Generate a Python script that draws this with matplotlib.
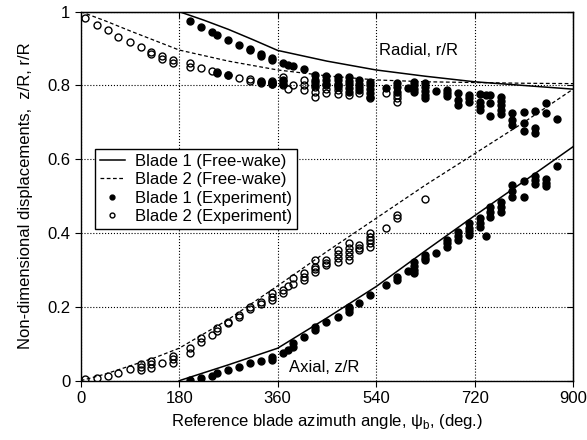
import matplotlib
matplotlib.use("Agg")
import matplotlib.pyplot as plt

plt.rcParams['font.family'] = ['Liberation Sans', 'DejaVu Sans']
plt.rcParams['mathtext.fontset'] = 'custom'
plt.rcParams['mathtext.rm'] = 'Liberation Sans'

# free-wake predictions
fw1_psi = [180, 225, 270, 315, 360, 450, 540, 630, 720, 810, 900]
fw1_rad = [1.0, 0.977, 0.952, 0.924, 0.895, 0.866, 0.842, 0.825, 0.81, 0.80, 0.79]
fw1_ax_psi = [180, 270, 360, 450, 540, 630, 720, 810, 900]
fw1_ax = [0.0, 0.043, 0.088, 0.17, 0.255, 0.352, 0.447, 0.54, 0.634]

fw2_psi = [0, 45, 90, 135, 180, 270, 360, 450, 540, 630, 720, 810, 900]
fw2_rad = [1.0, 0.975, 0.948, 0.922, 0.896, 0.866, 0.842, 0.826, 0.815, 0.81, 0.808, 0.806, 0.805]
fw2_ax = [0.0, 0.018, 0.04, 0.062, 0.088, 0.166, 0.257, 0.35, 0.44, 0.53, 0.615, 0.70, 0.79]

# experiment, blade 1 (radial)
b1_rad_psi = [200, 220, 240, 249, 270, 290, 310, 310, 330, 330, 350, 350,
              370, 379, 388, 409, 429, 449,
              249, 270, 330, 350, 350, 370, 370, 429, 429, 449, 449,
              470, 470, 470, 470, 490, 490, 490, 490, 490,
              509, 509, 509, 509, 529, 529, 529, 529, 529, 559,
              579, 579, 579, 599, 610, 610, 610, 610,
              629, 629, 629, 629, 629, 649, 670, 670, 670,
              690, 690, 690, 710, 710, 710, 730, 730, 730, 730, 740,
              749, 749, 749, 769, 769, 769, 769, 769,
              789, 789, 789, 810, 810, 810, 830, 830, 830, 850, 850, 870]
b1_rad_val = [0.974, 0.958, 0.944, 0.936, 0.922, 0.91, 0.90, 0.895, 0.884, 0.879, 0.875, 0.870,
              0.86, 0.856, 0.853, 0.844, 0.828, 0.826,
              0.834, 0.828, 0.81, 0.81, 0.805, 0.815, 0.805, 0.815, 0.80, 0.815, 0.805,
              0.824, 0.815, 0.805, 0.795, 0.824, 0.813, 0.803, 0.793, 0.783,
              0.815, 0.805, 0.795, 0.788, 0.81, 0.80, 0.79, 0.78, 0.77, 0.792,
              0.806, 0.795, 0.783, 0.792, 0.81, 0.80, 0.79, 0.783,
              0.806, 0.795, 0.785, 0.775, 0.765, 0.786, 0.788, 0.78, 0.771,
              0.78, 0.76, 0.747, 0.774, 0.765, 0.756, 0.776, 0.756, 0.745, 0.734, 0.774,
              0.774, 0.752, 0.717, 0.768, 0.757, 0.746, 0.734, 0.723,
              0.726, 0.706, 0.693, 0.729, 0.699, 0.677, 0.732, 0.684, 0.672, 0.752, 0.725, 0.708]

# experiment, blade 2 (radial)
b2_rad_psi = [8, 30, 50, 69, 90, 110, 129, 129, 149, 149, 169, 169,
              200, 200, 220, 240, 249, 270, 290, 310, 310, 330, 330, 350, 350, 350,
              370, 370, 370, 379, 388, 409, 409, 409, 429, 429, 429, 429,
              449, 449, 449, 470, 470, 470, 490, 509, 529, 559, 579, 579, 579]
b2_rad_val = [0.983, 0.965, 0.949, 0.931, 0.917, 0.905, 0.89, 0.885, 0.879, 0.873, 0.868, 0.862,
              0.86, 0.85, 0.846, 0.84, 0.836, 0.829, 0.82, 0.817, 0.812, 0.811, 0.806, 0.813, 0.808, 0.803,
              0.824, 0.812, 0.80, 0.79, 0.801, 0.815, 0.80, 0.788, 0.81, 0.795, 0.783, 0.769,
              0.80, 0.79, 0.78, 0.80, 0.788, 0.777, 0.774, 0.78, 0.765, 0.78, 0.774, 0.765, 0.756]

# experiment, blade 1 (axial)
b1_ax_psi = [200, 220, 240, 249, 270, 290, 310, 330, 350, 350,
             370, 379, 388, 388, 409, 429, 429, 449, 470, 490, 490, 490, 509, 529, 559,
             579, 579, 599, 610, 610, 610, 610, 629, 629, 629, 649, 670, 670, 670,
             690, 690, 690, 710, 710, 710, 710, 730, 730, 730, 740,
             749, 749, 749, 769, 769, 769, 789, 789, 789, 810, 810,
             830, 830, 830, 850, 850, 850, 870]
b1_ax_val = [0.002, 0.006, 0.013, 0.02, 0.029, 0.036, 0.049, 0.053, 0.065, 0.056,
             0.074, 0.083, 0.101, 0.092, 0.119, 0.146, 0.138, 0.16, 0.173, 0.2, 0.193, 0.187, 0.211, 0.232, 0.259,
             0.282, 0.273, 0.298, 0.322, 0.312, 0.30, 0.291, 0.341, 0.333, 0.327, 0.347, 0.381, 0.372, 0.363,
             0.404, 0.392, 0.381, 0.426, 0.415, 0.405, 0.395, 0.44, 0.428, 0.417, 0.392,
             0.472, 0.458, 0.444, 0.485, 0.472, 0.458, 0.53, 0.515, 0.499, 0.542, 0.497,
             0.555, 0.544, 0.533, 0.546, 0.537, 0.528, 0.582]

# experiment, blade 2 (axial)
b2_ax_psi = [8, 30, 50, 69, 90, 110, 110, 110, 129, 129, 129, 149, 169, 169, 169,
             200, 200, 220, 220, 240, 249, 249, 270, 270, 290, 290, 310, 310, 330, 330,
             350, 350, 350, 370, 370, 379, 388, 388, 409, 409, 409,
             429, 429, 429, 429, 449, 449, 449, 470, 470, 470, 470,
             490, 490, 490, 490, 490, 509, 509, 509, 529, 529, 529, 529, 529,
             559, 579, 579, 629]
b2_ax_val = [0.004, 0.006, 0.013, 0.022, 0.031, 0.03, 0.038, 0.045, 0.035, 0.044, 0.052, 0.049, 0.048, 0.058, 0.066,
             0.088, 0.074, 0.115, 0.106, 0.124, 0.143, 0.136, 0.16, 0.155, 0.178, 0.172, 0.2, 0.195, 0.214, 0.208,
             0.237, 0.228, 0.219, 0.246, 0.237, 0.257, 0.277, 0.262, 0.291, 0.282, 0.273,
             0.327, 0.309, 0.302, 0.295, 0.327, 0.32, 0.313, 0.354, 0.343, 0.333, 0.322,
             0.372, 0.36, 0.348, 0.337, 0.327, 0.368, 0.36, 0.354, 0.40, 0.39, 0.38, 0.372, 0.363,
             0.413, 0.449, 0.44, 0.492]

fig = plt.figure(figsize=(5.87, 4.40), dpi=100)
ax = fig.add_axes([0.1375, 0.1348, 0.8387, 0.8387])

ax.plot(fw1_psi, fw1_rad, '-', color='black', lw=1.1, label='Blade 1 (Free-wake)')
ax.plot(fw1_ax_psi, fw1_ax, '-', color='black', lw=1.1)
ax.plot(fw2_psi, fw2_rad, '--', color='black', lw=0.9, dashes=(3, 2), label='Blade 2 (Free-wake)')
ax.plot(fw2_psi, fw2_ax, '--', color='black', lw=0.9, dashes=(3, 2))

ax.plot(b1_rad_psi, b1_rad_val, 'o', color='black', ms=5, mec='black', ls='none',
        label='Blade 1 (Experiment)')
ax.plot(b1_ax_psi, b1_ax_val, 'o', color='black', ms=5, mec='black', ls='none')
ax.plot(b2_rad_psi, b2_rad_val, 'o', mfc='none', mec='black', mew=1.0, ms=5, ls='none',
        label='Blade 2 (Experiment)')
ax.plot(b2_ax_psi, b2_ax_val, 'o', mfc='none', mec='black', mew=1.0, ms=5, ls='none')

ax.set_xlim(0, 900)
ax.set_ylim(0, 1)
ax.set_xticks([0, 180, 360, 540, 720, 900])
ax.set_yticks([0, 0.2, 0.4, 0.6, 0.8, 1.0])
ax.set_yticklabels(['0', '0.2', '0.4', '0.6', '0.8', '1'])
ax.grid(True, ls=':', color='black', lw=0.8)
ax.tick_params(direction='out', labelsize=12, length=4)
for s in ax.spines.values():
    s.set_linewidth(1.0)

top = ax.secondary_xaxis('top')
top.set_xticks([0, 180, 360, 540, 720, 900])
top.tick_params(direction='in', labeltop=False, length=4)
right = ax.secondary_yaxis('right')
right.set_yticks([0, 0.2, 0.4, 0.6, 0.8, 1.0])
right.tick_params(direction='in', labelright=False, length=4)

ax.set_xlabel('Reference blade azimuth angle, ψ$_\\mathrm{b}$, (deg.)', fontsize=12, labelpad=4)
ax.set_ylabel('Non-dimensional displacements,  z/R, r/R', fontsize=12, labelpad=10)

ax.text(618, 0.896, 'Radial, r/R', fontsize=12, ha='center', va='center')
ax.text(446, 0.035, 'Axial, z/R', fontsize=12, ha='center', va='center')

leg = ax.legend(loc='upper left', bbox_to_anchor=(0.029, 0.628), fontsize=12,
                fancybox=False, edgecolor='black', framealpha=1, borderaxespad=0,
                handlelength=1.5, handletextpad=0.6, labelspacing=0.2, borderpad=0.3,
                markerscale=0.7)
leg.get_frame().set_linewidth(1.0)

fig.savefig('out.png', dpi=100)
